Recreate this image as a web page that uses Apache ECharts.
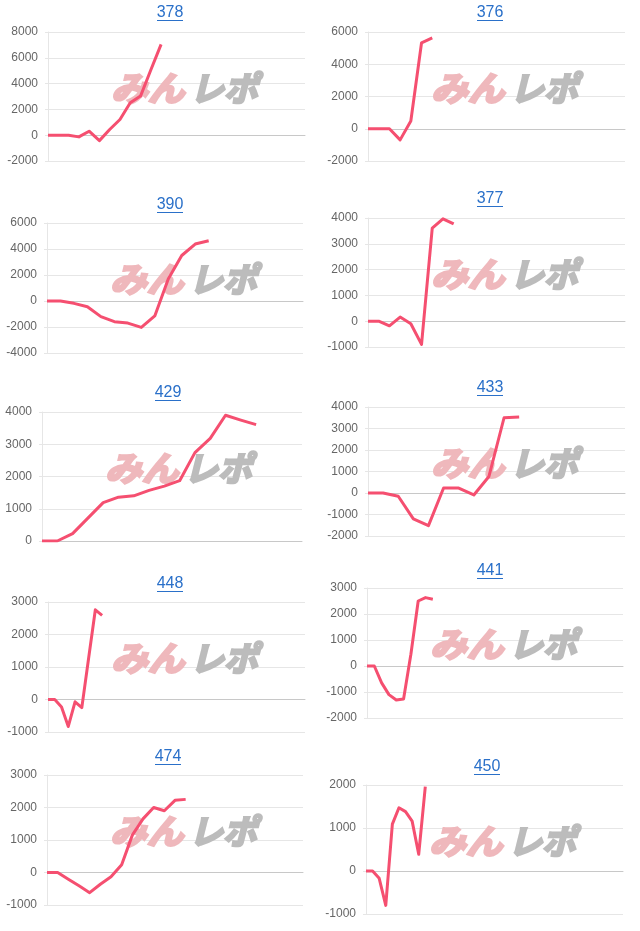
<!DOCTYPE html>
<html><head><meta charset="utf-8">
<script src="https://cdn.jsdelivr.net/npm/echarts@6/dist/echarts.min.js"></script>
<style>html,body{margin:0;padding:0;background:#fff}#c{width:640px;height:931px}</style>
</head><body><div id="c"></div>
<script>
// ---- data ----
const titles = ['378','376','390','377','429','433','448','441','474','450'];
const slots  = [26, 25, 20, 25, 18, 18, 39, 36, 25, 40];   // number of x positions per chart
const yMin   = [-2000,-2000,-4000,-1000,0,-2000,-1000,-2000,-1000,-1000];
const yMax   = [8000,6000,6000,4000,4000,4000,3000,3000,3000,2000];
const yStep  = [2000,2000,2000,1000,1000,1000,1000,1000,1000,1000];

const d378 = [0, 0, 0, -130, 310, -420, 440, 1220, 2510, 3030, 5050, 7040];
const d376 = [0, 0, 0, -690, 480, 5330, 5640];
const d390 = [0, 0, -180, -440, -1200, -1590, -1700, -2030, -1150, 1700, 3500, 4380, 4640];
const d377 = [0, 0, -180, 160, -100, -900, 3610, 3970, 3770];
const d429 = [0, 0, 230, 710, 1190, 1360, 1400, 1570, 1700, 1870, 2740, 3180, 3900, 3750, 3610];
const d433 = [0, 0, -150, -1200, -1520, 230, 230, -90, 770, 3500, 3540];
const d448 = [0, 0, -230, -830, -70, -250, 1260, 2760, 2590];
const d441 = [0, 0, -650, -1100, -1310, -1270, 450, 2500, 2630, 2570];
const d474 = [0, 0, -210, -410, -620, -360, -130, 240, 1150, 1650, 2000, 1900, 2220, 2250];
const d450 = [0, 0, -170, -800, 1090, 1470, 1380, 1160, 390, 1960];
const seriesData = [d378, d376, d390, d377, d429, d433, d448, d441, d474, d450];

// ---- layout (px) ----
const grids = [
  [48,32,257,129],[368,32,257,129],
  [47,223,256,130],[368,218,257,129],
  [42,412,260,129],[368,407,257,129],
  [48,602,257,130],[367,588,256,130],
  [47,775,256,130],[366,785,257,129]
];
const titlePos = [[170,13],[490,13],[170,205],[490,199],[168,393],[490,388],[170,584],[490,571],[168,757],[487,767]];

const FONT = '"Liberation Sans", Arial, sans-serif';
const LINE = '#f54f70';
const LINK = '#2a70c9';
const WM_FONT = 'italic bold 34px "Noto Sans CJK JP"';

const chart = echarts.init(document.getElementById('c'), null, {renderer:'canvas'});
const option = {
  animation:false,
  backgroundColor:'#fff',
  grid:[], xAxis:[], yAxis:[], series:[], graphic:[]
};
titles.forEach((t,i)=>{
  const [l,tp,w,h] = grids[i];
  option.grid.push({left:l, top:tp, width:w, height:h, containLabel:false});
  const cats = Array.from({length:slots[i]}, (_,k)=>String(k));
  option.xAxis.push({
    type:'category', gridIndex:i, data:cats, boundaryGap:false,
    axisLabel:{show:false}, axisTick:{show:false}, splitLine:{show:false},
    axisLine:{show:true, onZero:true, lineStyle:{color:'#c8c8c8', width:1}}
  });
  option.yAxis.push({
    type:'value', gridIndex:i, min:yMin[i], max:yMax[i], interval:yStep[i],
    axisLabel:{color:'#666', fontSize:12, margin:10, fontFamily:FONT, formatter:v=>String(v)},
    axisLine:{show:true, lineStyle:{color:'#e6e6e6'}},
    axisTick:{show:true, length:3, lineStyle:{color:'#e6e6e6'}},
    splitLine:{show:true, lineStyle:{color:'#e6e6e6', width:1}}
  });
  option.series.push({
    type:'line', xAxisIndex:i, yAxisIndex:i, data:seriesData[i],
    showSymbol:false, symbol:'none', smooth:false, z:5, silent:true,
    lineStyle:{color:LINE, width:3, join:'round'}
  });
  const [cx,cy] = titlePos[i];
  option.graphic.push({
    type:'text', x:cx, y:cy, z:10, silent:true,
    style:{text:t, fill:LINK, font:'16px '+FONT, align:'center', verticalAlign:'middle'}
  });
  option.graphic.push({
    type:'line', z:10, silent:true,
    shape:{x1:cx-13, y1:cy+7.5, x2:cx+13, y2:cy+7.5},
    style:{stroke:LINK, lineWidth:1}
  });
  // watermark
  option.graphic.push({
    type:'text', x:l+63, y:tp+56, z:1, silent:true, scaleX:1.08,
    style:{text:'みん', fill:'#efb8bc', stroke:'#efb8bc', lineWidth:2.5, font:WM_FONT, align:'left', verticalAlign:'middle'}
  });
  option.graphic.push({
    type:'text', x:l+142, y:tp+56, z:1, silent:true,
    style:{text:'レポ', fill:'#bcbcbc', stroke:'#bcbcbc', lineWidth:2.5, font:WM_FONT, align:'left', verticalAlign:'middle'}
  });
});
chart.setOption(option);
</script></body></html>
